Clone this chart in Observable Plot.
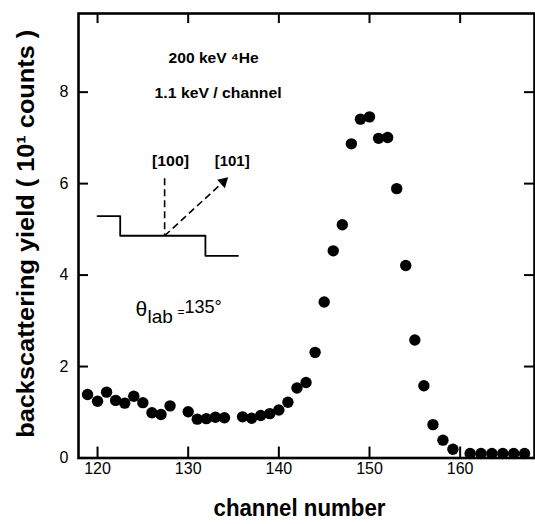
<!DOCTYPE html>
<html>
<head>
<meta charset="utf-8">
<script src="https://cdn.jsdelivr.net/npm/d3@7"></script>
<script src="https://cdn.jsdelivr.net/npm/@observablehq/plot@0.6"></script>
<style>
  html, body { margin: 0; padding: 0; background: #fff; }
  #chart svg { display: block; }
</style>
</head>
<body>
<div id="chart"></div>
<script>
// Backscattering spectrum (channel number vs yield in units of 10 counts)
const channels = [118.9, 120, 121, 122, 123, 124, 125, 126, 127, 128,
  130, 131, 132, 133, 134, 136, 137, 138, 139, 140,
  141, 142, 143, 144, 145, 146, 147, 148, 149, 150,
  151, 152, 153, 154, 155, 156, 157, 158.1, 159.2,
  161.1, 162.3, 163.5, 164.7, 165.9, 167.1];
const yields = [1.39, 1.24, 1.44, 1.26, 1.20, 1.35, 1.21, 0.99, 0.95, 1.14,
  1.01, 0.85, 0.86, 0.89, 0.88, 0.90, 0.87, 0.93, 0.97, 1.05,
  1.22, 1.53, 1.65, 2.31, 3.41, 4.53, 5.10, 6.87, 7.41, 7.46,
  6.99, 7.01, 5.89, 4.21, 2.58, 1.58, 0.73, 0.39, 0.19,
  0.10, 0.10, 0.10, 0.10, 0.10, 0.10];

const xTicks = [120, 130, 140, 150, 160];
const yTicks = [0, 2, 4, 6, 8];
const yInnerTicks = [2, 4, 6, 8];

// inset: crystal surface step profile (channel, yield coordinates)
const stepX = [120.0, 122.5, 122.5, 131.9, 131.9, 135.5];
const stepY = [5.29, 5.29, 4.86, 4.86, 4.42, 4.42];

const xDomain = [117.9, 168.2];
const yDomain = [0, 9.72];

const points = channels.map((c, i) => ({c, v: yields[i]}));
const steps = stepX.map((c, i) => ({c, v: stepY[i]}));

const F = "'Liberation Sans', Arial, sans-serif";

const yLabel = "backscattering yield ( 10\u00b9 counts )";
const xLabel = "channel number";
const note1 = "200 keV \u2074He";
const note2 = "1.1 keV / channel";

const chart = Plot.plot({
  width: 535,
  height: 524,
  marginLeft: 78,
  marginRight: 1,
  marginTop: 13,
  marginBottom: 66.5,
  style: {fontFamily: F, background: "#fff", color: "#000"},
  x: {domain: xDomain, ticks: xTicks},
  y: {domain: yDomain, ticks: yTicks},
  marks: [
    Plot.axisX(xTicks, {tickSize: 0, tickPadding: 5, fontSize: 16, label: null}),
    Plot.axisY(yTicks, {tickSize: 0, tickPadding: 10, fontSize: 16, label: null}),
    // inward ticks
    Plot.ruleX(xTicks, {y1: yDomain[0], y2: yDomain[0] + 0.24, stroke: "#000", strokeWidth: 2}),
    Plot.ruleX(xTicks, {y1: yDomain[1], y2: yDomain[1] - 0.22, stroke: "#000", strokeWidth: 2}),
    Plot.ruleY(yInnerTicks, {x1: xDomain[0], x2: xDomain[0] + 1.1, stroke: "#000", strokeWidth: 2}),
    Plot.ruleY(yInnerTicks, {x1: xDomain[1], x2: xDomain[1] - 1.1, stroke: "#000", strokeWidth: 2}),
    Plot.frame({stroke: "#000", strokeWidth: 2.6}),
    // data
    Plot.dot(points, {x: "c", y: "v", r: 5.7, fill: "#000", stroke: "none"}),
    // inset
    Plot.line(steps, {x: "c", y: "v", stroke: "#000", strokeWidth: 1.8}),
    Plot.link([0], {x1: 127.4, y1: 6.12, x2: 127.4, y2: 4.86, stroke: "#000", strokeWidth: 1.6, strokeDasharray: "7,4"}),
    Plot.link([0], {x1: 127.4, y1: 4.86, x2: 133.88, y2: 6.04, stroke: "#000", strokeWidth: 1.6, strokeDasharray: "7,4"}),
    Plot.dot([0], {x: 133.88, y: 6.04, symbol: "triangle", r: 4.2, fill: "#000", stroke: "none", rotate: 47.4}),
    Plot.text(["[100]"], {x: 128.05, y: 6.49, fontSize: 15, fontWeight: "bold", fontFamily: F}),
    Plot.text(["[101]"], {x: 134.85, y: 6.49, fontSize: 15, fontWeight: "bold", fontFamily: F}),
    // annotations
    Plot.text([note1], {x: 132.8, y: 8.74, fontSize: 14, fontWeight: "bold", fontFamily: F}),
    Plot.text([note2], {x: 133.3, y: 7.96, fontSize: 14, fontWeight: "bold", fontFamily: F}),
    Plot.text(["\u03b8"], {x: 124.19, y: 3.115, textAnchor: "start", lineAnchor: "bottom", fontSize: 21, fontFamily: F}),
    Plot.text(["lab"], {x: 125.51, y: 2.955, textAnchor: "start", lineAnchor: "bottom", fontSize: 19, fontFamily: F}),
    Plot.text(["="], {x: 128.82, y: 3.115, textAnchor: "start", lineAnchor: "bottom", fontSize: 12, fontFamily: F}),
    Plot.text(["135\u00b0"], {x: 129.59, y: 3.18, textAnchor: "start", lineAnchor: "bottom", fontSize: 18, fontFamily: F}),
    // axis titles
    Plot.text([yLabel], {frameAnchor: "left", dx: -52, dy: -2, rotate: -90, textAnchor: "middle", lineAnchor: "middle", fontSize: 24, fontWeight: "bold", fontFamily: F}),
    Plot.text([xLabel], {frameAnchor: "bottom", dx: -7, dy: 58, textAnchor: "middle", lineAnchor: "bottom", fontSize: 24, fontWeight: "bold", fontFamily: F})
  ]
});
document.getElementById("chart").appendChild(chart);

// fit the condensed lettering widths of the original figure
const lengths = new Map([
  [yLabel, 408], [xLabel, 172], [note1, 90], [note2, 127], ["[100]", 37], ["[101]", 35]
]);
d3.select(chart).selectAll("text").each(function () {
  const t = this.textContent;
  if (lengths.has(t)) {
    this.setAttribute("textLength", lengths.get(t));
    this.setAttribute("lengthAdjust", "spacingAndGlyphs");
  }
});
</script>
</body>
</html>
